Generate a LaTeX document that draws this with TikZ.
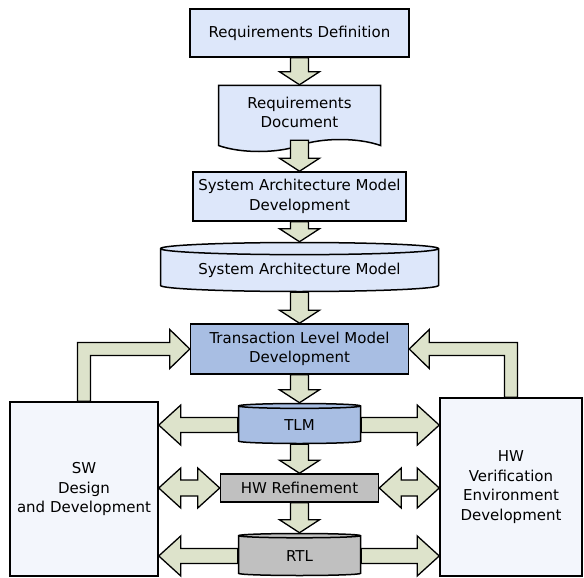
\documentclass[tikz,border=0pt]{standalone}
\usepackage{fontspec}
\setmainfont{DejaVu Sans}
\usepackage{tikz}
\usetikzlibrary{shapes.geometric,shapes.symbols,positioning,calc}

\definecolor{paleblue}{RGB}{221,231,250}
\definecolor{midblue}{RGB}{168,190,227}
\definecolor{midgray}{RGB}{192,192,192}
\definecolor{olivefill}{RGB}{221,227,203}
\definecolor{sidefill}{RGB}{243,246,252}

% block arrow straight down, from #1.south to #2.north
\newcommand{\vblk}[2]{%
  \draw[blk] let \p1=(#1.south), \p2=(#2.north) in
    (\x1-9pt,\y1) -- (\x1-9pt,\y2+13pt) -- (\x1-20pt,\y2+13pt) -- (\x1,\y2)
    -- (\x1+20pt,\y2+13pt) -- (\x1+9pt,\y2+13pt) -- (\x1+9pt,\y1) -- cycle;}
% block arrow leftwards, from #1.west to #2.east
\newcommand{\lblk}[2]{%
  \draw[blk] let \p1=(#1.west), \p2=(#2.east) in
    (\x1,\y1+7.5pt) -- (\x2+22pt,\y1+7.5pt) -- (\x2+22pt,\y1+20pt) -- (\x2,\y1)
    -- (\x2+22pt,\y1-20pt) -- (\x2+22pt,\y1-7.5pt) -- (\x1,\y1-7.5pt) -- cycle;}
% block arrow rightwards, from #1.east to #2.west
\newcommand{\rblk}[2]{%
  \draw[blk] let \p1=(#1.east), \p2=(#2.west) in
    (\x1,\y1+7.5pt) -- (\x2-22pt,\y1+7.5pt) -- (\x2-22pt,\y1+20pt) -- (\x2,\y1)
    -- (\x2-22pt,\y1-20pt) -- (\x2-22pt,\y1-7.5pt) -- (\x1,\y1-7.5pt) -- cycle;}
% double block arrow between #1.east and #2.west, at the height of #3
\newcommand{\dblk}[3]{%
  \draw[blk] let \p1=(#1.east), \p2=(#2.west), \p3=(#3) in
    (\x1,\y3) -- (\x1+22pt,\y3+20pt) -- (\x1+22pt,\y3+8pt) -- (\x2-22pt,\y3+8pt)
    -- (\x2-22pt,\y3+20pt) -- (\x2,\y3) -- (\x2-22pt,\y3-20pt) -- (\x2-22pt,\y3-8pt)
    -- (\x1+22pt,\y3-8pt) -- (\x1+22pt,\y3-20pt) -- cycle;}
% bent block arrow, up from #1.north and across to #2 (#3 = 1 right, -1 left)
\newcommand{\bblk}[3]{%
  \draw[blk] let \p1=(#1.north), \p2=(#2) in
    ({\x1-#3*6.5pt},\y1) -- ({\x1-#3*6.5pt},\y2+6.5pt) -- ({\x2-#3*20pt},\y2+6.5pt)
    -- ({\x2-#3*20pt},\y2+19.5pt) -- (\x2,\y2) -- ({\x2-#3*20pt},\y2-19.5pt)
    -- ({\x2-#3*20pt},\y2-6.5pt) -- ({\x1+#3*6.5pt},\y2-6.5pt) -- ({\x1+#3*6.5pt},\y1) -- cycle;}

\begin{document}
\begin{tikzpicture}[x=1pt, y=-1pt, node distance=25pt]
    \tikzstyle{base} = [draw, line width=1.5pt, align=center, inner sep=0pt, font=\fontsize{15}{19.5}\selectfont]
    \tikzstyle{proc} = [base, rectangle, fill=paleblue]
    \tikzstyle{doc} = [base, tape, tape bend top=none, tape bend bottom=in and out, tape bend height=12pt, fill=paleblue]
    \tikzstyle{store} = [base, cylinder, shape border rotate=90, aspect=0.16]
    \tikzstyle{side} = [base, rectangle, fill=sidefill]
    \tikzstyle{blk} = [draw, line width=1.3pt, line join=miter, fill=olivefill]

    \useasboundingbox (0,0) rectangle (584,578);

    \node [proc, minimum width=219pt, minimum height=48pt] (reqdef) at (299.5,33) {Requirements Definition};
    \node [doc, minimum width=162pt, minimum height=66pt, below=27pt of reqdef] (reqdoc) {Requirements\\Document};
    \node [proc, minimum width=213pt, minimum height=49pt, below=31pt of reqdoc] (samdev) {System Architecture Model\\Development};
    \node [store, aspect=0.06, fill=paleblue, minimum width=278pt, minimum height=49pt, below=20pt of samdev] (sam) {System Architecture Model};
    \node [proc, fill=midblue, minimum width=218pt, minimum height=50pt, below=31pt of sam] (tlmdev) {Transaction Level Model\\Development};
    \node [store, fill=midblue, minimum width=122pt, minimum height=40pt, below=28pt of tlmdev] (tlm) {TLM};
    \node [proc, fill=midgray, minimum width=158pt, minimum height=28pt, below=29pt of tlm] (hwref) {HW Refinement};
    \node [store, fill=midgray, minimum width=122pt, minimum height=42pt, below=30pt of hwref] (rtl) {RTL};

    \node [side, minimum width=148pt, minimum height=174pt] (sw) at (84,489) {SW\\Design\\and Development};
    \node [side, minimum width=142pt, minimum height=178pt] (hw) at (511,487) {HW\\Verification\\Environment\\Development};

    \vblk{reqdef}{reqdoc}
    \vblk{reqdoc}{samdev}
    \vblk{samdev}{sam}
    \vblk{sam}{tlmdev}
    \vblk{tlmdev}{tlm}
    \vblk{tlm}{hwref}
    \vblk{hwref}{rtl}

    \lblk{tlm}{sw}
    \rblk{tlm}{hw}
    \dblk{sw}{hwref}{hwref.west}
    \dblk{hwref}{hw}{hwref.east}
    \lblk{rtl}{sw}
    \rblk{rtl}{hw}

    \bblk{sw}{tlmdev.west}{1}
    \bblk{hw}{tlmdev.east}{-1}
\end{tikzpicture}
\end{document}
